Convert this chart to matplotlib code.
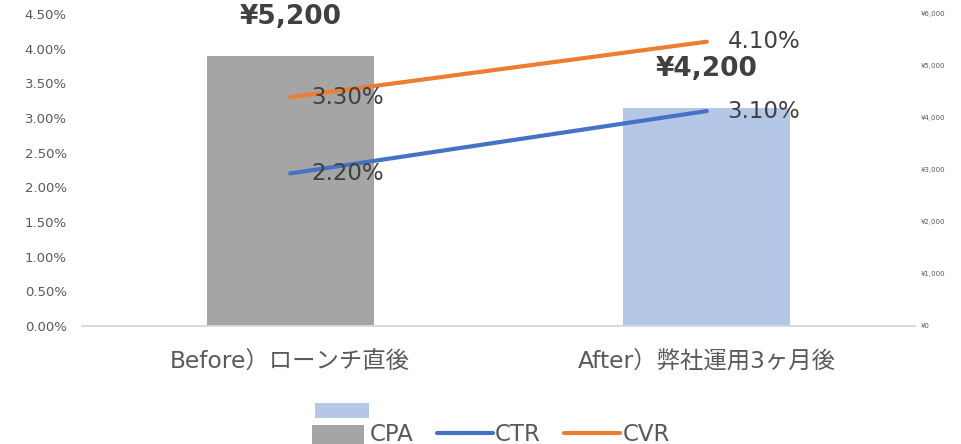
import matplotlib
matplotlib.use("Agg")
import matplotlib.pyplot as plt
from matplotlib.lines import Line2D
from matplotlib.patches import Rectangle, Patch
from matplotlib.legend_handler import HandlerBase
from matplotlib.ticker import FuncFormatter, MultipleLocator

categories = ['Before）ローンチ直後', 'After）弊社運用3ヶ月後']
cpa = [5200, 4200]          # yen, right axis
ctr = [2.2, 3.1]            # %, left axis
cvr = [3.3, 4.1]            # %, left axis

BAR_C = ['#A5A5A5', '#B4C7E7']
CTR_C = '#4472C4'; CVR_C = '#ED7D31'
TXT = '#595959'; LBL = '#404040'

plt.rcParams['font.family'] = ['DejaVu Sans', 'Noto Sans CJK JP']

fig = plt.figure(figsize=(9.62, 4.44), dpi=100)
axb = fig.add_axes([0.0852, 0.2658, 0.8660, 0.7027])   # bars, yen on right
axl = axb.twinx()                                       # lines, % on left

x = list(range(len(categories)))
axb.bar(x, cpa, width=0.4, color=BAR_C, zorder=2)
axb.set_xlim(-0.5, 1.5); axb.set_ylim(0, 6000)
axb.yaxis.set_major_locator(MultipleLocator(1000))
axb.yaxis.set_major_formatter(FuncFormatter(lambda v, p: f'¥{v:,.0f}'))
axb.yaxis.tick_right()
axb.tick_params(axis='y', length=0, labelsize=5, labelcolor=TXT, pad=4)
axb.set_xticks(x); axb.set_xticklabels(categories, fontsize=16.8, color=TXT)
axb.tick_params(axis='x', length=0, pad=18)
for xi, v in zip(x, cpa):
    axb.text(xi, v + 500, f'¥{v:,}', ha='center', va='bottom', fontsize=19,
             fontweight='bold', color=LBL)

axl.plot(x, ctr, color=CTR_C, lw=3, solid_capstyle='round', zorder=3)
axl.plot(x, cvr, color=CVR_C, lw=3, solid_capstyle='round', zorder=3)
axl.set_ylim(0, 4.5)
axl.yaxis.set_major_locator(MultipleLocator(0.5))
axl.yaxis.set_major_formatter(FuncFormatter(lambda v, p: f'{v:.2f}%'))
axl.yaxis.tick_left()
axl.tick_params(axis='y', length=0, labelsize=9.5, labelcolor=TXT, pad=11)
for series in (ctr, cvr):
    for xi, v in zip(x, series):
        axl.text(xi + 0.05, v, f'{v:.2f}%', ha='left', va='center', fontsize=16.5, color=LBL)

for a in (axb, axl):
    for s in ('top', 'right', 'left'):
        a.spines[s].set_visible(False)
    a.spines['bottom'].set_color('#D9D9D9')
    a.spines['bottom'].set_linewidth(1.2)


class TwoPatch(HandlerBase):
    def create_artists(self, legend, orig, xd, yd, w, h, fs, trans):
        x0, y0 = -xd, -yd
        bot = Rectangle((x0, y0 - h * 0.4), w * 0.93, h * 1.4, fc=BAR_C[0], ec='none', transform=trans)
        top = Rectangle((x0 + w * 0.07, y0 + h * 1.45), w * 0.96, h, fc=BAR_C[1], ec='none', transform=trans)
        return [top, bot]


handles = [Patch(fc=BAR_C[0]),
           Line2D([], [], color=CTR_C, lw=3, solid_capstyle='round'),
           Line2D([], [], color=CVR_C, lw=3, solid_capstyle='round')]
fig.legend(handles, ['CPA', 'CTR', 'CVR'], loc='center', bbox_to_anchor=(0.510, 0.022),
           ncol=3, frameon=False, prop={'family': 'DejaVu Sans', 'size': 16.5},
           handlelength=2.45, handleheight=0.66, handletextpad=0.1, columnspacing=1.0,
           labelcolor=TXT, handler_map={Patch: TwoPatch()})

fig.savefig('out.png', dpi=100)
